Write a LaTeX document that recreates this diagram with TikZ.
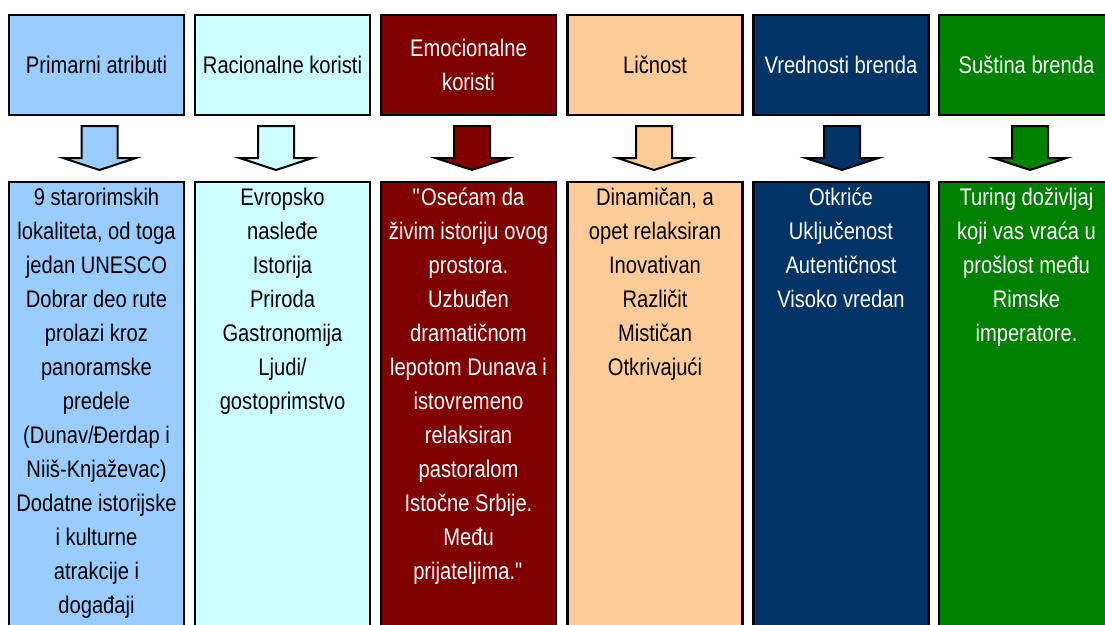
\documentclass[tikz,border=0pt]{standalone}
\usepackage{fontspec}
\setmainfont[FakeStretch=0.84]{Liberation Sans}
\usepackage{tikz}
\usetikzlibrary{positioning}

\definecolor{atrblue}{HTML}{99CCFF}
\definecolor{racicyan}{HTML}{CCFFFF}
\definecolor{emored}{HTML}{800000}
\definecolor{licpeach}{HTML}{FFCC99}
\definecolor{vrednavy}{HTML}{003366}
\definecolor{sustgreen}{HTML}{008000}

\tikzset{
  headbox/.style={rectangle, draw=black, line width=2.5pt, minimum width=175pt,
    minimum height=100pt, inner sep=0pt, align=center},
  bodybox/.style={rectangle, draw=black, line width=2.5pt, minimum width=175pt,
    minimum height=458pt, inner sep=0pt},
  bodytext/.style={inner sep=0pt, align=center},
}

% block arrow: centre x, fill colour
\newcommand{\blockarrow}[2]{%
  \draw[line width=2pt, fill=#2, line join=miter]
    (#1-18,126) -- (#1+18,126) -- (#1+18,158) -- (#1+36.5,158)
    -- (#1,170) -- (#1-36.5,158) -- (#1-18,158) -- cycle;}
% straight double quote (no tex-text mapping)
\newcommand{\dq}{\XeTeXglyph\XeTeXcharglyph"22\relax}

\begin{document}
\begin{tikzpicture}[x=1pt, y=-1pt, font=\fontsize{24}{34}\selectfont]
    \useasboundingbox (0,0) rectangle (1105,624);
    \clip (0,0) rectangle (1105,624);

    % headers
    \node[headbox, fill=atrblue] (h1) at (96.5, 65) {Primarni atributi};
    \node[headbox, fill=racicyan] (h2) at (282.5, 65) {Racionalne koristi};
    \node[headbox, fill=emored, text=white] (h3) at (468.5, 65) {Emocionalne\\koristi};
    \node[headbox, fill=licpeach] (h4) at (655, 65) {Ličnost};
    \node[headbox, fill=vrednavy, text=white] (h5) at (841, 65) {Vrednosti brenda};
    \node[headbox, fill=sustgreen, text=white] (h6) at (1026.5, 65) {Suština brenda};

    % arrows
    \blockarrow{99.5}{atrblue}
    \blockarrow{276}{racicyan}
    \blockarrow{472}{emored}
    \blockarrow{654}{licpeach}
    \blockarrow{842}{vrednavy}
    \blockarrow{1030}{sustgreen}

    % bodies
    \node[bodybox, fill=atrblue] (b1) at (96.5, 411) {};
    \node[bodybox, fill=racicyan] (b2) at (282.5, 411) {};
    \node[bodybox, fill=emored] (b3) at (468.5, 411) {};
    \node[bodybox, fill=licpeach] (b4) at (655, 411) {};
    \node[bodybox, fill=vrednavy] (b5) at (841, 411) {};
    \node[bodybox, fill=sustgreen] (b6) at (1026.5, 411) {};

    \node[bodytext, below=7pt of b1.north] (t1) {9 starorimskih\\lokaliteta, od toga\\jedan UNESCO\\Dobrar deo rute\\prolazi kroz\\panoramske\\predele\\(Dunav/Đerdap i\\Niiš-Knjaževac)\\Dodatne istorijske\\i kulturne\\atrakcije i\\događaji};
    \node[bodytext, below=7pt of b2.north] (t2) {Evropsko\\nasleđe\\Istorija\\Priroda\\Gastronomija\\Ljudi/\\gostoprimstvo};
    \node[bodytext, text=white, below=7pt of b3.north] (t3) {\dq Osećam da\\živim istoriju ovog\\prostora.\\Uzbuđen\\dramatičnom\\lepotom Dunava i\\istovremeno\\relaksiran\\pastoralom\\Istočne Srbije.\\Među\\prijateljima.\dq};
    \node[bodytext, below=7pt of b4.north] (t4) {Dinamičan, a\\opet relaksiran\\Inovativan\\Različit\\Mističan\\Otkrivajući};
    \node[bodytext, text=white, below=7pt of b5.north] (t5) {Otkriće\\Uključenost\\Autentičnost\\Visoko vredan};
    \node[bodytext, text=white, below=7pt of b6.north] (t6) {Turing doživljaj\\koji vas vraća u\\prošlost među\\Rimske\\imperatore.};
\end{tikzpicture}
\end{document}
